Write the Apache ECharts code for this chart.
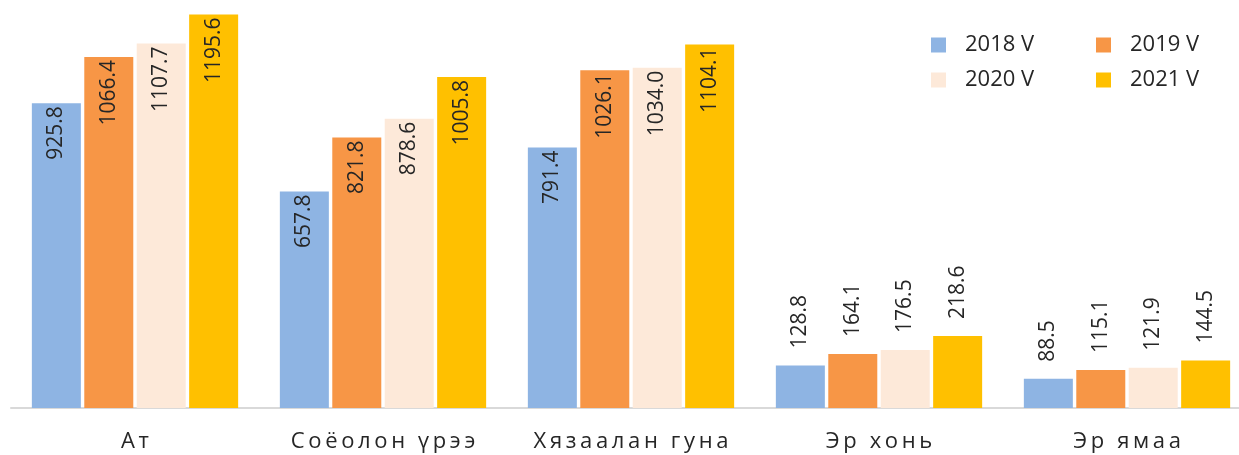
<!DOCTYPE html>
<html lang="mn">
<head>
	<meta charset="UTF-8">
	<title>Малын тоо</title>
	<style>
		html, body { margin: 0; padding: 0; background: #fff; overflow: hidden; }
	</style>
</head>
<body>
<!-- график баруун тийшээ цонхноос бага зэрэг гарна -->
<div id="chart" style="width:1251px;height:455px;"></div>
<script src="https://cdn.jsdelivr.net/npm/echarts@6/dist/echarts.min.js"></script>
<script>
// ангилал ба жил бүрийн утгууд
var categories = ['Ат', 'Соёолон үрээ', 'Хязаалан гуна', 'Эр хонь', 'Эр ямаа'];
var seriesNames = ['2018 V', '2019 V', '2020 V', '2021 V'];
var v2018 = [925.8, 657.8, 791.4, 128.8, 88.5];
var v2019 = [1066.4, 821.8, 1026.1, 164.1, 115.1];
var v2020 = [1107.7, 878.6, 1034.0, 176.5, 121.9];
var v2021 = [1195.6, 1005.8, 1104.1, 218.6, 144.5];

var colors = ['#8EB4E3', '#F79646', '#FDE9D9', '#FFC000'];
var font = '"Open Sans", "Noto Sans", sans-serif';
var textColor = '#262626';

var myChart = echarts.init(document.getElementById('chart'));

// жижиг баганын шошгыг гадна талд нь
function makeData(values) {
	return values.map(function (v) {
		if (v < 300) {
			return {
				value: v,
				label: { position: 'top', align: 'left', distance: 17 }
			};
		}
		return v;
	});
}

function makeSeries(name, values, i) {
	return {
		name: name,
		type: 'bar',
		barWidth: 49,
		barGap: '7%',
		itemStyle: { color: colors[i] },
		label: {
			show: true,
			rotate: 90,
			position: 'insideTop',
			align: 'right',
			verticalAlign: 'middle',
			distance: 3,
			fontFamily: font,
			fontSize: 21,
			color: textColor,
			formatter: function (p) { return p.value.toFixed(1); }
		},
		data: makeData(values)
	};
}

var legendPos = [
	{ left: 931, top: 34 },
	{ left: 1096, top: 34 },
	{ left: 931, top: 69 },
	{ left: 1096, top: 69 }
];

var option = {
	animation: false,
	color: colors,
	legend: seriesNames.map(function (n, i) {
		return {
			data: [n],
			left: legendPos[i].left,
			top: legendPos[i].top,
			padding: 0,
			icon: 'rect',
			itemWidth: 15,
			itemHeight: 15,
			textStyle: {
				fontFamily: font,
				fontSize: 22,
				color: textColor,
				padding: [0, 0, 0, 14]
			}
		};
	}),
	grid: {
		left: 11,
		right: 0,
		top: 13,
		height: 395
	},
	xAxis: {
		type: 'category',
		data: categories,
		axisTick: { show: false },
		axisLine: { lineStyle: { color: '#D9D9D9', width: 2 } },
		axisLabel: {
			interval: 0,
			hideOverlap: false,
			margin: 23,
			fontFamily: font,
			fontSize: 22,
			color: textColor,
			formatter: function (v) { return v.split('').join('\u2009'); }
		}
	},
	yAxis: {
		type: 'value',
		min: 0,
		max: 1200,
		show: false,
		splitLine: { show: false }
	},
	series: [
		makeSeries(seriesNames[0], v2018, 0),
		makeSeries(seriesNames[1], v2019, 1),
		makeSeries(seriesNames[2], v2020, 2),
		makeSeries(seriesNames[3], v2021, 3)
	]
};
myChart.setOption(option);
</script>
</body>
</html>
